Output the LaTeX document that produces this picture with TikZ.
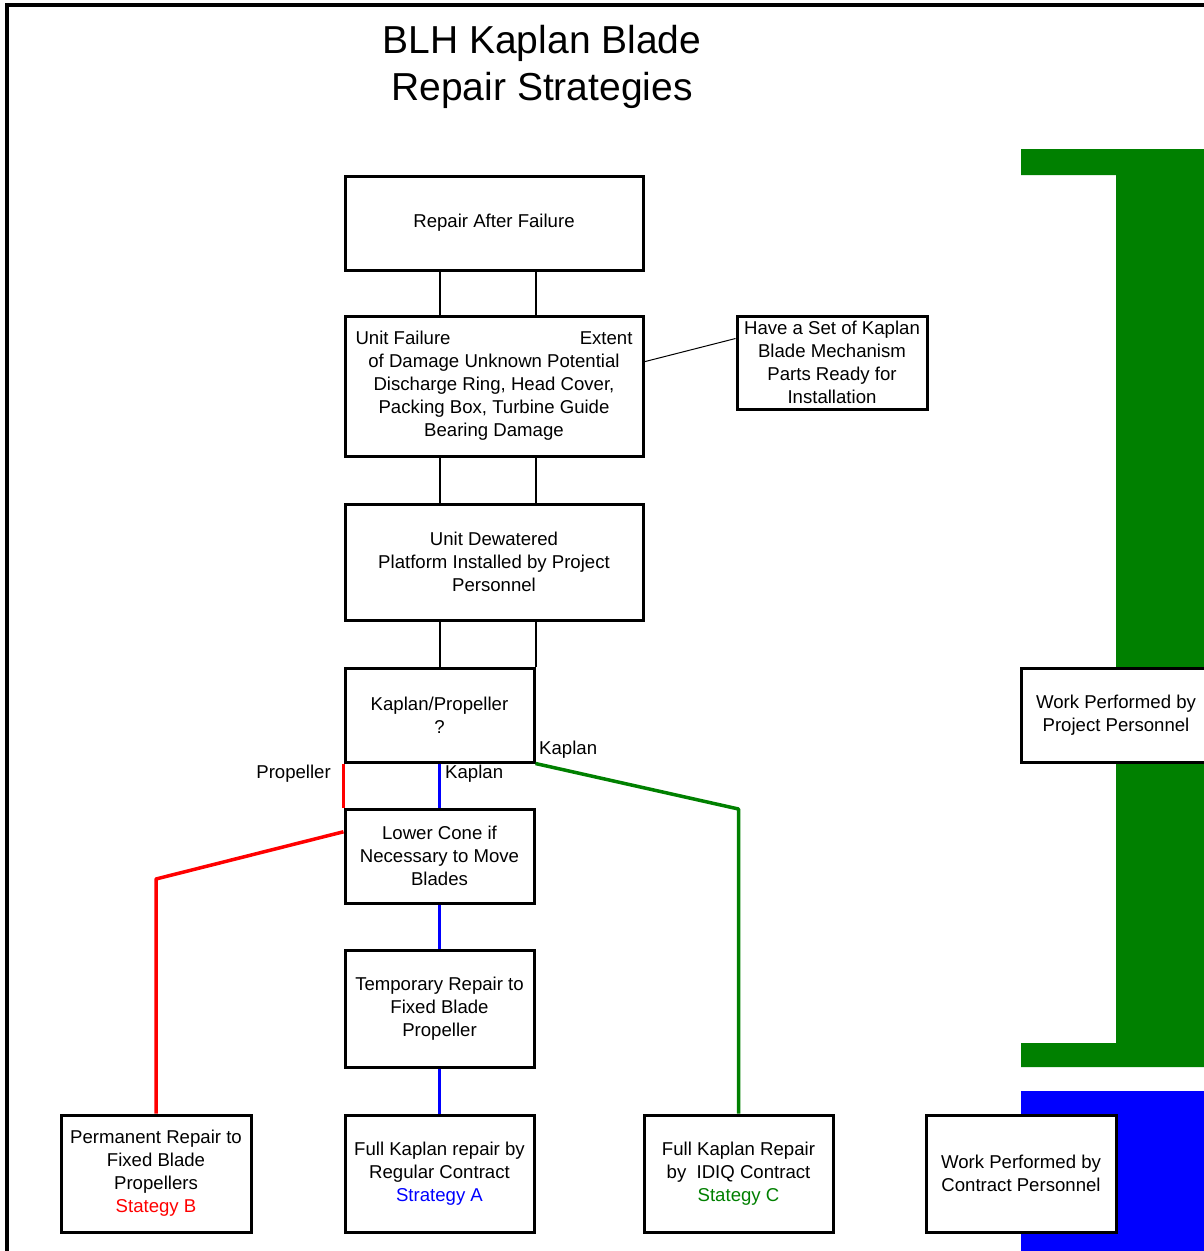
\documentclass[tikz,border=0pt]{standalone}
\usepackage{fontspec}
\setmainfont{Liberation Sans}
\usetikzlibrary{calc}
\definecolor{dgreen}{HTML}{008000}
\definecolor{pblue}{HTML}{0000FF}
\definecolor{pred}{HTML}{FF0000}
\begin{document}
\begin{tikzpicture}[x=1pt,y=-1pt,
  box/.style={draw=black, line width=3pt, fill=white, inner sep=0pt, align=center,
    font=\fontsize{18.6}{23}\selectfont},
  lbl/.style={inner sep=0pt, font=\fontsize{18.6}{23}\selectfont},
  conn/.style={draw=black, line width=2pt},
  rline/.style={draw=pred, line width=3.5pt},
  bline/.style={draw=pblue, line width=3.3pt},
  gline/.style={draw=dgreen, line width=3.5pt}]
\useasboundingbox (0,0) rectangle (1204,1251);
\clip (0,0) rectangle (1204,1251);
\fill[white] (0,0) rectangle (1204,1251);
% outer frame
\draw[line width=4pt] (7,1260) -- (7,5) -- (1215,5);
% title
\node[align=center, inner sep=0pt, font=\fontsize{39}{47}\selectfont] (title) at (542,67) {BLH Kaplan Blade\\Repair Strategies};
% coloured bands
\fill[dgreen] (1021,149) -- (1210,149) -- (1210,1067) -- (1021,1067) -- (1021,1043) -- (1116,1043) -- (1116,175) -- (1021,175) -- cycle;
\fill[pblue] (1021,1091) rectangle (1210,1260);
% boxes
\node[box, minimum width=298, minimum height=94] (raf) at (494,223) {Repair After Failure};
\node[box, minimum width=298, minimum height=140] (uf) at (494,386) {\makebox[277pt]{Unit Failure\hfill Extent}\\of Damage Unknown Potential\\Discharge Ring, Head Cover,\\Packing Box, Turbine Guide\\Bearing Damage};
\node[box, minimum width=190, minimum height=93] (have) at (832,362.5) {Have a Set of Kaplan\\Blade Mechanism\\Parts Ready for\\Installation};
\node[box, minimum width=298, minimum height=116] (ud) at (494,562) {Unit Dewatered\\Platform Installed by Project\\Personnel};
\node[box, minimum width=189, minimum height=94] (kp) at (439.5,715) {Kaplan/Propeller\\?};
\node[box, minimum width=189, minimum height=94] (lc) at (439.5,856) {Lower Cone if\\Necessary to Move\\Blades};
\node[box, minimum width=189, minimum height=117] (tr) at (439.5,1008.5) {Temporary Repair to\\Fixed Blade\\Propeller};
\node[box, minimum width=190, minimum height=117] (pr) at (156,1173.5) {Permanent Repair to\\Fixed Blade\\Propellers\\\textcolor{pred}{Stategy B}};
\node[box, minimum width=189, minimum height=117] (fk) at (439.5,1173.5) {Full Kaplan repair by\\Regular Contract\\\textcolor{pblue}{Strategy A}};
\node[box, minimum width=189, minimum height=117] (ik) at (738.5,1173.5) {Full Kaplan Repair\\by\ \ IDIQ Contract\\\textcolor{dgreen}{Stategy C}};
\node[box, minimum width=190, minimum height=117] (wc) at (1021,1173.5) {Work Performed by\\Contract Personnel};
\node[box, minimum width=190, minimum height=94] (wp) at (1116,715) {Work Performed by\\Project Personnel};
% black double connectors
\draw[conn] (raf.south -| kp.north) -- (uf.north -| kp.north);
\draw[conn] (raf.south -| kp.north east) -- (uf.north -| kp.north east);
\draw[conn] (uf.south -| kp.north) -- (ud.north -| kp.north);
\draw[conn] (uf.south -| kp.north east) -- (ud.north -| kp.north east);
\draw[conn] (ud.south -| kp.north) -- (kp.north);
\draw[conn] (ud.south -| kp.north east) -- (kp.north east);
% thin line to parts box
\draw[black, line width=1pt] ($(uf.north east)!0.33!(uf.south east)$) -- ($(have.north west)!0.25!(have.south west)$);
% red: propeller branch
\coordinate (rb) at (156,879);
\draw[rline] (kp.south west) -- (lc.north west);
\draw[rline, line join=round] ($(lc.north west)!0.25!(lc.south west)$) -- (rb) -- (pr.north);
% blue: kaplan branch
\draw[bline] (kp.south) -- (lc.north);
\draw[bline] (lc.south) -- (tr.north);
\draw[bline] (tr.south) -- (fk.north);
% green: kaplan idiq branch
\coordinate (gb) at (738.5,809);
\draw[gline, line join=round] (kp.south east) -- (gb) -- (ik.north);
% labels
\node[lbl, anchor=east] (lprop) at (331,774) {Propeller};
\node[lbl, anchor=west] (lkap1) at (445,774) {Kaplan};
\node[lbl, anchor=west] (lkap2) at (539,750) {Kaplan};
\end{tikzpicture}
\end{document}
